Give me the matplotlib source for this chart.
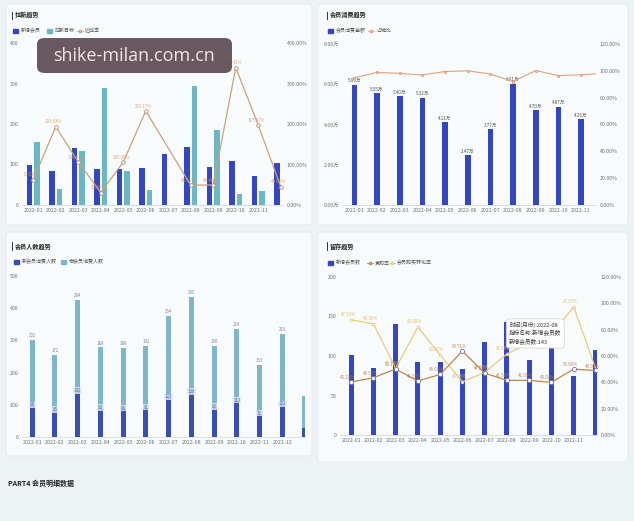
import numpy as np
import matplotlib.pyplot as plt
from matplotlib.patches import FancyBboxPatch, Rectangle
from matplotlib.lines import Line2D

plt.rcParams['font.family'] = ['Noto Sans CJK SC', 'DejaVu Sans']

# ---- data ----
months = ['2022-01', '2022-02', '2022-03', '2022-04', '2022-05', '2022-06',
          '2022-07', '2022-08', '2022-09', '2022-10', '2022-11', '2022-12']

# 拉新趋势
new_members = [98, 84, 141, 89, 89, 92, 125, 143, 93, 109, 71, 104]
new_targets = [155, 39, 133, 289, 84, 37, np.nan, 293, 186, 28, 34, np.nan]
achieve_rate = [62.58, 193.33, 106.02, 30.80, 105.95, 232.17, np.nan, 48.81,
                49.46, 339.41, 197.37, 45.00]

# 会员消费趋势 (万)
consume_amt = [5.96, 5.55, 5.40, 5.32, 4.11, 2.47, 3.77, 6.01, 4.70, 4.87, 4.26, np.nan]
sales_share = [94.9, 98.8, 98.1, 96.9, 99.5, 100.0, 97.6, 92.0, 100.2, 96.4, 97.1, 98.1]

# 会员人数趋势 (last bar is cut off at the right edge)
new_consumers = [98, 83, 142, 90, 88, 91, 123, 139, 93, 112, 72, 101, 28]
old_consumers = [202, 172, 284, 188, 188, 192, 254, 295, 190, 224, 153, 219, 100]

# 留存趋势
retain_new = [101, 85, 141, 92, 92, 84, 118, 143, 95, 110, 75, 107]
repurchase = [40.20, 43.50, 50.10, 41.00, 46.00, 63.71, 47.00, 41.50, 41.50, 40.00, 50.00, 49.00]
conversion = [87.50, 84.38, 50.70, 82.00, 60.87, 40.50, 47.50, 61.50, 70.00, 76.00, 97.37, 50.00]

W, H = 634, 521
fig = plt.figure(figsize=(6.34, 5.21), dpi=100)
fig.patch.set_facecolor('#edf2f5')

DARK = '#3547c0'
TEAL = '#6cb8c2'
TICK = '#6f6f6f'


def px_axes(x0, y0, x1, y1):
    return fig.add_axes([x0 / W, 1 - y1 / H, (x1 - x0) / W, (y1 - y0) / H])


def card(x0, y0, x1, y1):
    p = FancyBboxPatch((x0 / W, 1 - y1 / H), (x1 - x0) / W, (y1 - y0) / H,
                       boxstyle='round,pad=0,rounding_size=0.006',
                       transform=fig.transFigure, facecolor='#f8fbfc',
                       edgecolor='#e2e9ee', lw=0.6, zorder=-5)
    fig.patches.append(p)


def title(x, y, s):
    fig.add_artist(Line2D([x / W, x / W], [1 - (y - 3.5) / H, 1 - (y + 3.5) / H],
                          color='#333', lw=0.7))
    fig.text((x + 3) / W, 1 - y / H, s, fontsize=4.4, fontweight='bold',
             color='#222', va='center')


def leg_box(x, y, color, s):
    fig.patches.append(Rectangle((x / W, 1 - (y + 2.2) / H), 4.5 / W, 4.4 / H,
                                 transform=fig.transFigure, color=color))
    fig.text((x + 7.5) / W, 1 - y / H, s, fontsize=3.6, color='#555', va='center')


def leg_line(x, y, color, s):
    fig.add_artist(Line2D([(x - 3) / W, (x + 3) / W], [1 - y / H, 1 - y / H],
                          color=color, lw=0.6))
    fig.add_artist(Line2D([x / W], [1 - y / H], marker='o', ms=1.6,
                          color=color, mfc='white'))
    fig.text((x + 5) / W, 1 - y / H, s, fontsize=3.6, color='#555', va='center')


def style(ax):
    for s in ['top', 'right', 'left']:
        ax.spines[s].set_visible(False)
    ax.spines['bottom'].set_color('#d5dbe0')
    ax.spines['bottom'].set_linewidth(0.5)
    ax.tick_params(length=0, labelsize=3.8, colors=TICK, pad=2.5)
    ax.patch.set_visible(False)


def pct(vals):
    return ['%.2f%%' % v for v in vals]


card(6, 4, 312, 225)
card(318, 4, 628, 225)
card(6, 232, 312, 456)
card(318, 232, 628, 462)

x12 = np.arange(12)

# ---------------- 拉新趋势 ----------------
title(12, 15, '拉新趋势')
leg_box(13, 31, DARK, '新增会员')
leg_box(47, 31, TEAL, '拉新目标')
leg_line(80, 31, '#c9a27a', '达成率')

ax = px_axes(22, 43, 283, 205)
ax.bar(x12 - 0.17, new_members, 0.25, color=DARK)
ax.bar(x12 + 0.17, new_targets, 0.25, color=TEAL)
ax.set_ylim(0, 400)
ax.set_yticks(range(0, 401, 100))
ax.set_xlim(-0.5, 11.1)
ax.set_xticks(x12[:11], months[:11])
style(ax)
r = ax.twinx()
rate = np.array(achieve_rate)
ok = ~np.isnan(rate)
r.plot(x12[ok], rate[ok], color='#c9a27a', lw=0.9, marker='o', ms=2.6,
       mfc='white', mec='#b0907a', mew=0.6)
for xi, v in zip(x12[ok], rate[ok]):
    r.text(xi - 0.1, v + 6, '%.2f%%' % v, fontsize=3.2, color='#d59a6a',
           ha='center', va='bottom', alpha=0.85)
r.set_ylim(0, 400)
ticks = list(range(0, 401, 100))
r.set_yticks(ticks, pct(ticks))
style(r)

# ---------------- 会员消费趋势 ----------------
title(327, 15, '会员消费趋势')
leg_box(328, 31, DARK, '会员消费金额')
leg_line(371, 31, '#e2a27a', '占销比')

ax = px_axes(343, 44, 596, 205)
amt = np.array(consume_amt)
ax.bar(x12, amt, 0.25, color=DARK)
for xi, v in zip(x12, amt):
    if not np.isnan(v):
        ax.text(xi, v + 0.08, '%.2f万' % v, fontsize=3.3, color='#555',
                ha='center', va='bottom')
ax.set_ylim(0, 8)
yt = [0, 2, 4, 6, 8]
ax.set_yticks(yt, ['%.2f万' % v for v in yt])
ax.set_xlim(-0.5, 10.66)
ax.set_xticks(x12[:11], months[:11])
style(ax)
r = ax.twinx()
r.plot(x12, sales_share, color='#e2a27a', lw=0.8, marker='o', ms=1.8,
       mfc='#f0c8a8', mec='#d89070', mew=0.4)
r.set_ylim(0, 120)
ticks = list(range(0, 121, 20))
r.set_yticks(ticks, pct(ticks))
style(r)

# ---------------- 会员人数趋势 ----------------
title(12, 246, '会员人数趋势')
leg_box(14, 262, '#3a4fb5', '新会员消费人数')
leg_box(61, 262, '#7fb6c8', '老会员消费人数')

ax = px_axes(22, 276, 305, 437)
x13 = np.arange(13)
newc = np.array(new_consumers)
oldc = np.array(old_consumers)
ax.bar(x13, newc, 0.22, color='#3a4fb5')
ax.bar(x13, oldc, 0.22, bottom=newc, color='#7fb6c8')
for xi in x13[:12]:
    ax.text(xi, newc[xi] + oldc[xi] + 6, str(oldc[xi]), fontsize=3.2,
            color='#7d8a99', ha='center', va='bottom')
    ax.text(xi, newc[xi] + 2, str(newc[xi]), fontsize=3.2, color='#5565b0',
            ha='center', va='center',
            bbox=dict(boxstyle='square,pad=0.15', fc='#dfe9f7', ec='none', alpha=0.8))
ax.set_ylim(0, 500)
ax.set_yticks(range(0, 501, 100))
ax.set_xlim(-0.45, 12.0)
ax.set_xticks(x12, months)
style(ax)

# ---------------- 留存趋势 ----------------
title(327, 246, '留存趋势')
leg_box(328, 263, DARK, '新增会员数')
leg_line(370, 263, '#c0854a', '复购率')
leg_line(392, 263, '#eccb77', '会员购买转化率')

ax = px_axes(340, 277, 597, 435)
ax.bar(x12, retain_new, 0.22, color=DARK)
ax.set_ylim(0, 200)
ax.set_yticks(range(0, 201, 50))
ax.set_xlim(-0.5, 11.05)
ax.set_xticks(x12[:11], months[:11])
style(ax)
r = ax.twinx()
r.plot(x12, conversion, color='#eccb77', lw=0.9, marker='o', ms=2.0,
       mfc='white', mec='#e0c070', mew=0.5, zorder=3)
r.plot(x12, repurchase, color='#c0854a', lw=0.9, marker='o', ms=3.0,
       mfc='white', mec='#6f7aa8', mew=0.6, zorder=4)
# labels of conversion for 09/10 sit under the tooltip, the last one is hidden by the 11 label
for xi, v in enumerate(conversion):
    if xi in (8, 9, 11):
        continue
    r.text(xi - 0.15, v + 2, '%.2f%%' % v, fontsize=3.2, color='#dcb45a',
           ha='center', va='bottom', alpha=0.85)
for xi, v in enumerate(repurchase):
    r.text(xi - 0.15, v + 1.5, '%.2f%%' % v, fontsize=3.2, color='#b07a50',
           ha='center', va='bottom', alpha=0.85)
r.set_ylim(0, 120)
ticks = list(range(0, 121, 20))
r.set_yticks(ticks, pct(ticks))
style(r)
r.text(7.1, 86, '时间(月份):2022-08\n指标名称:新增会员数\n新增会员数:%d' % retain_new[7],
       fontsize=4.1, color='#333', va='top', ha='left', linespacing=1.5, zorder=10,
       bbox=dict(boxstyle='round,pad=0.5', fc='white', ec='#cfcfcf', lw=0.5))

# ---------------- footer + watermark ----------------
fig.text(8 / W, 1 - 483 / H, 'PART4 会员明细数据', fontsize=5, fontweight='bold',
         color='#222', va='center')

fig.patches.append(FancyBboxPatch((37 / W, 1 - 73 / H), 195 / W, 35 / H,
                                  boxstyle='round,pad=0,rounding_size=0.012',
                                  transform=fig.transFigure, facecolor='#5a4850',
                                  edgecolor='none', alpha=0.9, zorder=20))
fig.text(134 / W, 1 - 56 / H, 'shike-milan.com.cn', family='Open Sans',
         fontsize=13, color='#f6e4ea', ha='center', va='center', zorder=21)

fig.savefig('out.png', dpi=100, facecolor=fig.get_facecolor())
